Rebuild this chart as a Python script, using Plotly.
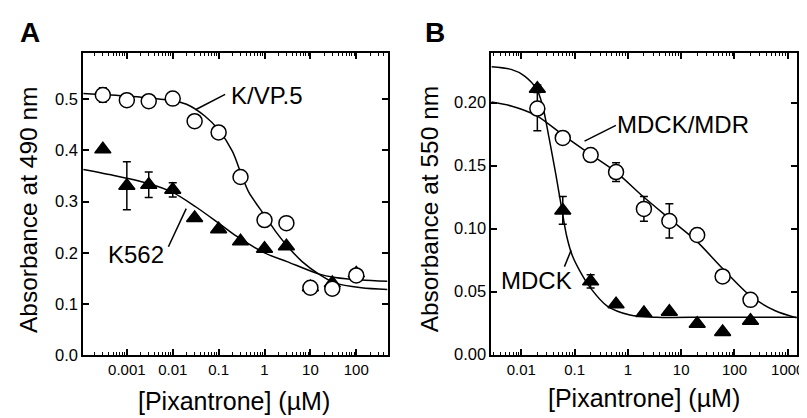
import plotly.graph_objects as go

# ---- data ----
# panel A: K/VP.5 and K562 cells, absorbance at 490 nm
conc_a = [0.0003, 0.001, 0.003, 0.01, 0.03, 0.1, 0.3, 1, 3, 10, 30, 100]
kvp5_abs = [0.508, 0.498, 0.496, 0.501, 0.457, 0.435, 0.348, 0.264, 0.258, 0.132, 0.130, 0.156]
kvp5_err = [0.014, 0, 0, 0, 0, 0, 0, 0, 0, 0, 0, 0]
k562_abs = [0.402, 0.331, 0.333, 0.323, 0.268, 0.246, 0.2225, 0.208, 0.213, 0.133, 0.141, 0.160]
k562_err = [0, 0.047, 0.025, 0.014, 0, 0, 0, 0, 0, 0, 0, 0]

# fitted curves, panel A
kvp5_fit_x = [0.000112, 0.001, 0.00316, 0.01, 0.02, 0.05, 0.1, 0.2, 0.316, 0.457,
              1, 1.74, 3.09, 6.61, 15.0, 34.7, 129, 479]
kvp5_fit_y = [0.511, 0.506, 0.502, 0.497, 0.490, 0.467, 0.440, 0.398, 0.352, 0.318,
              0.2735, 0.242, 0.214, 0.183, 0.159, 0.141, 0.132, 0.1285]
k562_fit_x = [0.000112, 0.000589, 0.00309, 0.01, 0.0316, 0.1, 0.251, 1, 3.09,
              15.0, 34.7, 129, 479]
k562_fit_y = [0.3626, 0.350, 0.335, 0.318, 0.290, 0.258, 0.232, 0.200, 0.183,
              0.159, 0.152, 0.147, 0.1445]

# panel B: MDCK and MDCK/MDR cells, absorbance at 550 nm
conc_b = [0.02, 0.06, 0.2, 0.6, 2, 6, 20, 60, 200]
mdr_abs = [0.1953, 0.172, 0.1584, 0.1449, 0.1157, 0.1061, 0.095, 0.0621, 0.0435]
mdr_err = [0.0175, 0, 0, 0.0075, 0.0098, 0.0136, 0, 0, 0]
mdck_abs = [0.211, 0.1145, 0.0582, 0.040, 0.033, 0.034, 0.0245, 0.018, 0.027]
mdck_err = [0.003, 0.011, 0.0052, 0, 0, 0, 0, 0, 0]

mdr_fit_x = [0.00274, 0.00646, 0.0193, 0.0589, 0.189, 0.601, 1.93, 6.05, 19.0,
             59.3, 200, 583, 1479]
mdr_fit_y = [0.2005, 0.1974, 0.1897, 0.1747, 0.1596, 0.1449, 0.1255, 0.1079, 0.0905,
             0.0686, 0.0466, 0.0349, 0.0292]
mdck_fit_x = [0.00274, 0.00646, 0.01138, 0.0193, 0.025, 0.0332, 0.0442, 0.0564, 0.0708,
              0.0902, 0.129, 0.198, 0.404, 1.094, 3.43, 31.6, 1479]
mdck_fit_y = [0.2285, 0.2264, 0.2213, 0.2109, 0.198, 0.172, 0.1436, 0.1177, 0.0944,
              0.0789, 0.0655, 0.053, 0.0388, 0.0315, 0.0297, 0.0297, 0.0297]

W, H = 807, 418
FONT = "Liberation Sans, Arial, Helvetica, sans-serif"


def px(x):
    return x / W


def py(y):
    return 1 - y / H


fig = go.Figure()


def add_curve(x, y, xa, ya):
    fig.add_trace(go.Scatter(
        x=x, y=y, mode="lines", xaxis=xa, yaxis=ya,
        line=dict(color="black", width=1.5, shape="spline", smoothing=0.8),
        hoverinfo="skip", showlegend=False,
    ))


def add_points(x, y, err, xa, ya, symbol, fill, size):
    fig.add_trace(go.Scatter(
        x=x, y=y, mode="markers", xaxis=xa, yaxis=ya,
        marker=dict(symbol=symbol, size=size, color=fill,
                    line=dict(color="black", width=1.5)),
        error_y=dict(type="data", array=err, visible=True,
                     color="black", thickness=1.5, width=4),
        showlegend=False,
    ))


add_curve(kvp5_fit_x, kvp5_fit_y, "x", "y")
add_curve(k562_fit_x, k562_fit_y, "x", "y")
add_points(conc_a, k562_abs, k562_err, "x", "y", "triangle-up", "black", 14)
add_points(conc_a, kvp5_abs, kvp5_err, "x", "y", "circle", "white", 15)

add_curve(mdr_fit_x, mdr_fit_y, "x2", "y2")
add_curve(mdck_fit_x, mdck_fit_y, "x2", "y2")
add_points(conc_b, mdck_abs, mdck_err, "x2", "y2", "triangle-up", "black", 14)
add_points(conc_b, mdr_abs, mdr_err, "x2", "y2", "circle", "white", 15)

minor_vals = [m * 10 ** d for d in range(-5, 4) for m in range(2, 10)]

common_x = dict(
    type="log", showline=True, linewidth=2, linecolor="black", mirror="ticks",
    ticks="inside", ticklen=6, tickwidth=1.5, tickcolor="black",
    showgrid=False, zeroline=False, ticklabeloverflow="allow",
    tickfont=dict(family=FONT, size=15, color="black"),
    minor=dict(ticks="inside", ticklen=3, tickwidth=1, tickcolor="black",
               tickvals=minor_vals, showgrid=False),
)
common_y = dict(
    showline=True, linewidth=2, linecolor="black", mirror="ticks",
    ticks="inside", ticklen=6, tickwidth=1.5, tickcolor="black",
    showgrid=False, zeroline=False,
    tickfont=dict(family=FONT, size=16.5, color="black"),
)

fig.update_layout(
    width=W, height=H, margin=dict(l=0, r=0, t=0, b=0),
    paper_bgcolor="white", plot_bgcolor="white",
    font=dict(family=FONT, color="black"),
    xaxis=dict(common_x, domain=[px(76), px(383.3)], range=[-3.95, 2.68], anchor="y",
               tickvals=[0.001, 0.01, 0.1, 1, 10, 100],
               ticktext=["0.001", "0.01", "0.1", "1", "10", "100"]),
    yaxis=dict(common_y, domain=[py(355), py(46)], range=[0, 0.59], anchor="x",
               tickvals=[0, 0.1, 0.2, 0.3, 0.4, 0.5], tickformat=".1f"),
    xaxis2=dict(common_x, domain=[px(488.3), px(796.7)], range=[-2.56, 3.17], anchor="y2",
                tickvals=[0.01, 0.1, 1, 10, 100, 1000],
                ticktext=["0.01", "0.1", "1", "10", "100", "1000"]),
    yaxis2=dict(common_y, domain=[py(354.3), py(46)], range=[0, 0.2394], anchor="x2",
                tickvals=[0, 0.05, 0.1, 0.15, 0.2], tickformat=".2f"),
)

texts = [
    # text, x px, y px, size, bold, angle, xanchor, yanchor
    ("A", 22.5, 25, 28, True, 0, "center", "middle"),
    ("B", 431.7, 25, 28, True, 0, "center", "middle"),
    ("K/VP.5", 261.5, 89, 24, False, 0, "center", "middle"),
    ("K562", 129, 251.7, 24, False, 0, "center", "middle"),
    ("MDCK/MDR", 682, 119, 24, False, 0, "center", "middle"),
    ("MDCK", 534, 279, 24, False, 0, "center", "middle"),
    ("Absorbance at 490 nm", 4.5, 205.5, 24.5, False, -90, "left", "middle"),
    ("Absorbance at 550 nm", 425.5, 205.5, 24.5, False, -90, "center", "middle"),
    ("[Pixantrone] (µM)", 228, 418, 25, False, 0, "center", "bottom"),
    ("[Pixantrone] (µM)", 642.5, 415, 25, False, 0, "center", "bottom"),
]
for t, x, y, s, b, ang, xa, ya in texts:
    fig.add_annotation(
        text=f"<b>{t}</b>" if b else t, x=px(x), y=py(y), xref="paper", yref="paper",
        xanchor=xa, yanchor=ya, showarrow=False, textangle=ang,
        font=dict(family=FONT, size=s, color="black"),
    )

leaders = [
    (189.3, 104, 219.3, 88.3),
    (162, 244, 180, 205),
    (582.3, 136, 614, 120),
    (562, 264.3, 568.7, 247.7),
]
for x0, y0, x1, y1 in leaders:
    fig.add_shape(type="line", xref="paper", yref="paper",
                  x0=px(x0), y0=py(y0), x1=px(x1), y1=py(y1),
                  line=dict(color="black", width=1.5))

fig.write_html("out.html")
